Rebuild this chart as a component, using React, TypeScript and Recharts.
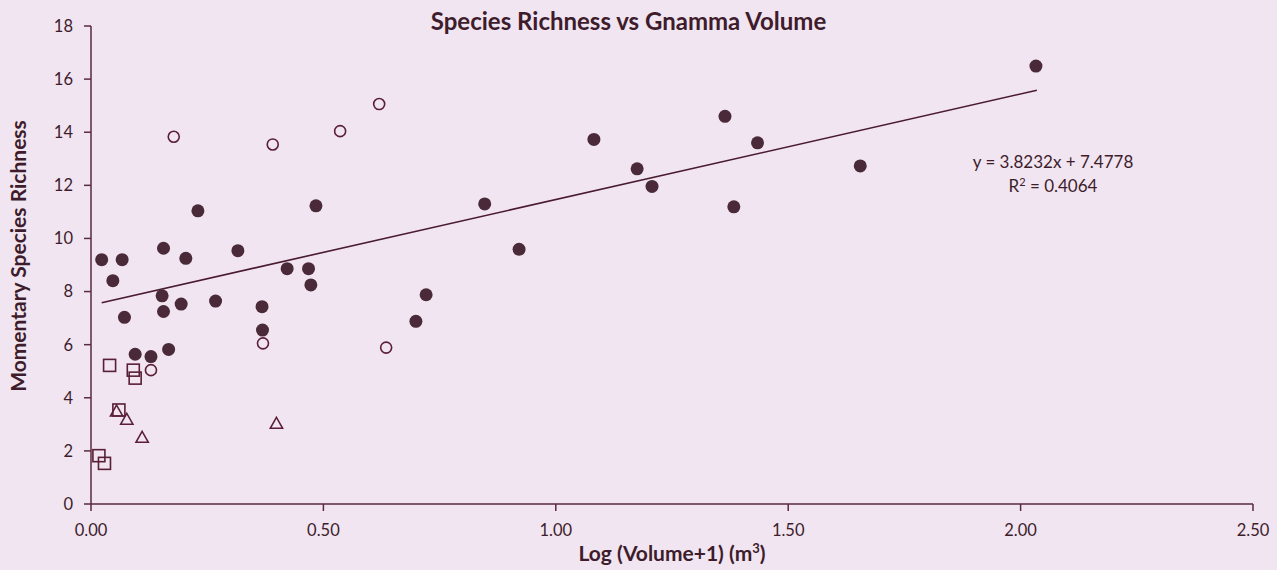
import React from "react";
import { ScatterChart, Scatter, XAxis, YAxis } from "recharts";

const filledX = [0.023, 0.067, 0.047, 0.156, 0.204, 0.230, 0.316, 0.484, 0.422, 0.468, 0.473, 0.153, 0.156, 0.194, 0.268, 0.072, 0.368, 0.369, 0.095, 0.129, 0.167, 0.847, 0.921, 0.721, 0.699, 1.082, 1.175, 1.207, 1.364, 1.434, 1.383, 2.033, 1.655];
const filledY = [9.2, 9.2, 8.41, 9.63, 9.25, 11.04, 9.54, 11.23, 8.86, 8.86, 8.25, 7.84, 7.25, 7.53, 7.64, 7.03, 7.43, 6.55, 5.64, 5.55, 5.82, 11.3, 9.59, 7.88, 6.88, 13.73, 12.62, 11.96, 14.6, 13.6, 11.19, 16.49, 12.73];

const openX = [0.178, 0.391, 0.536, 0.620, 0.370, 0.129, 0.635];
const openY = [13.83, 13.54, 14.04, 15.06, 6.05, 5.04, 5.89];

const squareX = [0.040, 0.091, 0.095, 0.060, 0.017, 0.029];
const squareY = [5.22, 5.04, 4.74, 3.54, 1.82, 1.53];

const triangleX = [0.055, 0.077, 0.110, 0.399];
const triangleY = [3.5, 3.19, 2.51, 3.04];

// trend line end points as drawn in the picture
const trendX = [0.023, 2.035];
const trendY = [7.58, 15.58];

const xTicks = [0, 0.5, 1, 1.5, 2, 2.5];
const yTicks = [0, 2, 4, 6, 8, 10, 12, 14, 16, 18];

const zip = (xs: number[], ys: number[]) => xs.map((x, i) => ({ x, y: ys[i] }));
const filledData = zip(filledX, filledY);
const openData = zip(openX, openY);
const squareData = zip(squareX, squareY);
const triangleData = zip(triangleX, triangleY);
const trendData = zip(trendX, trendY);

const AXIS = "#5a2a3e";
const TEXT = "#3e1c2c";
const MARK = "#4a2a38";
const FONT = "Lato, 'Open Sans', sans-serif";

const FilledShape = (p: any) => <circle cx={p.cx} cy={p.cy} r={6.5} fill={MARK} />;
const OpenShape = (p: any) => (
  <circle cx={p.cx} cy={p.cy} r={5.5} fill="none" stroke="#5a1f36" strokeWidth={1.6} />
);
const SquareShape = (p: any) => (
  <rect x={p.cx - 6} y={p.cy - 6} width={12} height={12} fill="none" stroke="#5a1f36" strokeWidth={1.6} />
);
const TriangleShape = (p: any) => (
  <path
    d={`M${p.cx},${p.cy - 6} L${p.cx + 6.2},${p.cy + 5} L${p.cx - 6.2},${p.cy + 5} Z`}
    fill="none"
    stroke="#5a1f36"
    strokeWidth={1.5}
  />
);
const NoShape = () => <g />;

const fmtX = (v: number) => v.toFixed(2);

export default function App() {
  return (
    <div
      style={{
        position: "absolute",
        left: 0,
        top: 0,
        width: 1277,
        height: 570,
        background: "#f0e5f0",
        fontFamily: FONT,
        overflow: "hidden",
      }}
    >
      <ScatterChart width={1277} height={570} margin={{ top: 26, right: 24, bottom: 0, left: 0 }}>
        <XAxis
          type="number"
          dataKey="x"
          domain={[0, 2.5]}
          ticks={xTicks}
          tickFormatter={fmtX}
          height={66}
          tickSize={7}
          tickMargin={13}
          stroke={AXIS}
          strokeWidth={1.5}
          tick={{ fill: TEXT, fontSize: 16.5, fontFamily: FONT }}
          interval={0}
        />
        <YAxis
          type="number"
          dataKey="y"
          domain={[0, 18]}
          ticks={yTicks}
          width={91}
          tickSize={7}
          tickMargin={11}
          stroke={AXIS}
          strokeWidth={1.5}
          tick={{ fill: TEXT, fontSize: 16.5, fontFamily: FONT }}
          interval={0}
        />
        <Scatter
          data={trendData}
          line={{ stroke: "#4a1a30", strokeWidth: 1.6 }}
          shape={NoShape}
          isAnimationActive={false}
        />
        <Scatter data={filledData} shape={FilledShape} isAnimationActive={false} />
        <Scatter data={openData} shape={OpenShape} isAnimationActive={false} />
        <Scatter data={squareData} shape={SquareShape} isAnimationActive={false} />
        <Scatter data={triangleData} shape={TriangleShape} isAnimationActive={false} />
      </ScatterChart>

      <div
        style={{
          position: "absolute",
          left: 0,
          width: 1257,
          top: 7,
          textAlign: "center",
          fontSize: 24,
          lineHeight: "28px",
          fontWeight: 700,
          color: TEXT,
        }}
      >
        Species Richness vs Gnamma Volume
      </div>

      <div
        style={{
          position: "absolute",
          left: 91,
          width: 1162,
          top: 539,
          textAlign: "center",
          fontSize: 21,
          lineHeight: "28px",
          fontWeight: 700,
          color: TEXT,
        }}
      >
        Log (Volume+1) (m<sup style={{ fontSize: 13, verticalAlign: "8px", lineHeight: 0 }}>3</sup>)
      </div>

      <div
        style={{
          position: "absolute",
          left: 18,
          top: 256,
          transform: "translate(-50%, -50%) rotate(-90deg)",
          whiteSpace: "nowrap",
          fontSize: 21,
          lineHeight: "26px",
          fontWeight: 700,
          color: TEXT,
        }}
      >
        Momentary Species Richness
      </div>

      <div
        style={{
          position: "absolute",
          left: 933,
          width: 240,
          top: 150,
          textAlign: "center",
          fontSize: 17,
          lineHeight: "24px",
          color: TEXT,
        }}
      >
        <div>y = 3.8232x + 7.4778</div>
        <div>
          R<sup style={{ fontSize: 11, verticalAlign: "6px", lineHeight: 0 }}>2</sup> = 0.4064
        </div>
      </div>
    </div>
  );
}
